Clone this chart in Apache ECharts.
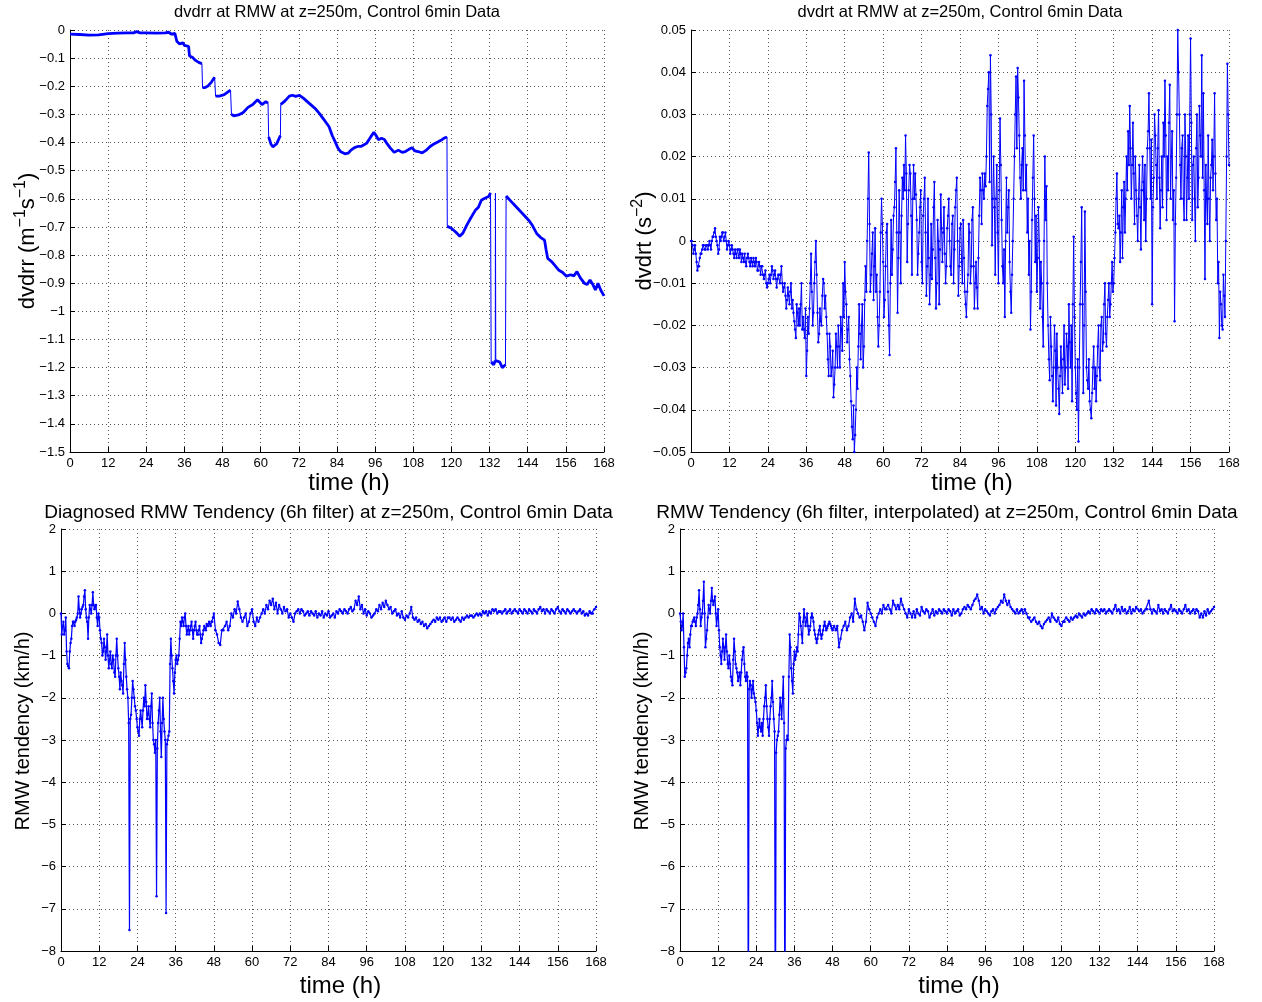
<!DOCTYPE html>
<html><head><meta charset="utf-8">
<script src="https://cdn.jsdelivr.net/npm/echarts@6/dist/echarts.min.js"></script>
<style>html,body{margin:0;padding:0;background:#fff}#c{width:1262px;height:1002px}</style>
</head><body><div id="c"></div>
<script>
// ---------- DATA ----------
const xTicks = [0,12,24,36,48,60,72,84,96,108,120,132,144,156,168];

// Top-left: dvdrr (time in h, value in m^-1 s^-1)
const dvdrrTime = [0,3,6,9,12,15,18,20,21,22,24,27,30,31,32,33,33.6,34.5,35.5,36,37.3,37.6,38.5,39.5,40.5,41.5,41.7,42.5,43.5,44.5,45.5,45.8,47,48.5,50.5,50.8,51.5,53,54.5,56,57.5,59,60.4,61.6,62.3,62.5,63.2,63.8,65,66.2,66.3,67,67.8,69,70,71,72.2,73.5,75,76,77.2,78.5,79.6,80.5,81.5,82.5,83.4,84.3,85.2,86.5,87.5,88.4,89.5,90.5,91.5,92.5,93.3,94.6,95.6,96.3,97,98,98.9,99.8,100.8,102,103.3,104.5,105.5,106.5,107.6,108.5,109.5,110.8,112,113.2,114.5,115.7,116.7,117.6,118.6,118.7,120,120.7,121.7,122.6,123.6,125,126,127.5,128.5,129.4,130.5,131.7,132.3,132.5,133.3,133.8,133.85,133.95,134.5,135.2,136,137,137.2,138,139.4,140.5,141.9,143,144.3,145.5,146.8,148,149.3,149.8,150.3,151.6,152.4,153.7,155,156.2,157.5,158.5,159.5,160.5,161.8,162.7,163.6,164.5,165.3,166.1,167,168];
const dvdrrVal = [-0.015,-0.016,-0.018,-0.017,-0.013,-0.011,-0.010,-0.010,-0.006,-0.010,-0.010,-0.011,-0.010,-0.008,-0.015,-0.012,-0.040,-0.050,-0.045,-0.055,-0.058,-0.092,-0.097,-0.108,-0.115,-0.120,-0.205,-0.205,-0.198,-0.185,-0.168,-0.235,-0.235,-0.230,-0.214,-0.300,-0.305,-0.302,-0.293,-0.275,-0.265,-0.248,-0.265,-0.255,-0.260,-0.380,-0.405,-0.415,-0.405,-0.375,-0.265,-0.258,-0.250,-0.235,-0.232,-0.236,-0.232,-0.243,-0.258,-0.268,-0.280,-0.297,-0.314,-0.328,-0.344,-0.375,-0.397,-0.420,-0.433,-0.440,-0.438,-0.427,-0.418,-0.414,-0.414,-0.408,-0.403,-0.380,-0.364,-0.375,-0.390,-0.385,-0.389,-0.405,-0.420,-0.435,-0.427,-0.435,-0.432,-0.425,-0.418,-0.430,-0.432,-0.437,-0.428,-0.415,-0.405,-0.398,-0.392,-0.385,-0.380,-0.698,-0.705,-0.712,-0.722,-0.733,-0.722,-0.690,-0.670,-0.641,-0.630,-0.605,-0.598,-0.592,-0.579,-1.180,-1.190,-1.175,-0.580,-1.175,-1.170,-1.180,-1.200,-1.190,-0.590,-0.600,-0.617,-0.630,-0.647,-0.660,-0.676,-0.695,-0.723,-0.737,-0.747,-0.782,-0.812,-0.824,-0.835,-0.853,-0.862,-0.875,-0.870,-0.874,-0.859,-0.880,-0.900,-0.905,-0.889,-0.905,-0.924,-0.900,-0.925,-0.945];

// Top-right: dvdrt (s^-2), on the half hours 0, 0.5, ..., 168
const dvdrtVal = [
0.000,-0.001,-0.002,-0.003,-0.007,-0.006,-0.003,-0.002,-0.001,-0.002,
-0.001,-0.001,-0.001,0.000,0.001,0.003,0.000,-0.003,0.001,0.001,
0.002,0.001,0.000,-0.001,-0.001,-0.002,-0.002,-0.004,-0.003,-0.002,
-0.004,-0.003,-0.003,-0.005,-0.005,-0.004,-0.004,-0.006,-0.005,-0.004,
-0.006,-0.005,-0.007,-0.006,-0.006,-0.008,-0.008,-0.010,-0.010,-0.008,
-0.008,-0.007,-0.008,-0.009,-0.009,-0.008,-0.008,-0.010,-0.011,-0.013,
-0.014,-0.013,-0.012,-0.016,-0.017,-0.021,-0.015,-0.020,-0.020,-0.010,
-0.018,-0.023,-0.032,-0.018,-0.016,-0.003,-0.020,-0.010,0.000,-0.017,
-0.022,-0.019,-0.013,-0.010,-0.013,-0.022,-0.032,-0.025,-0.030,-0.037,
-0.030,-0.025,-0.020,-0.030,-0.021,-0.010,-0.005,-0.015,-0.021,-0.028,
-0.038,-0.047,-0.050,-0.040,-0.035,-0.015,-0.028,-0.015,-0.025,-0.006,
0.000,0.021,-0.012,-0.003,-0.014,0.003,-0.008,-0.025,-0.012,0.010,
-0.005,-0.014,0.002,-0.012,-0.027,0.005,-0.002,0.008,0.022,-0.017,
0.012,-0.010,0.015,0.018,0.025,-0.005,0.012,0.016,-0.008,0.018,
0.016,0.005,-0.003,0.008,-0.005,0.006,0.015,-0.013,0.010,-0.015,
0.004,-0.002,0.014,-0.016,0.005,-0.015,0.011,-0.005,0.008,-0.010,
0.003,0.010,-0.006,0.004,-0.010,0.008,0.015,-0.013,0.003,-0.005,
0.005,-0.012,-0.018,-0.008,0.002,-0.006,0.008,-0.016,-0.005,-0.016,
0.006,0.012,0.016,0.010,0.013,0.032,0.040,0.044,-0.001,0.020,
-0.008,0.018,-0.010,0.029,0.005,-0.010,-0.018,0.015,0.008,-0.005,
-0.017,0.000,0.020,0.039,0.041,0.025,0.010,0.022,0.038,0.012,
0.002,-0.008,-0.021,0.005,0.025,-0.005,-0.012,0.008,-0.016,-0.010,
-0.025,0.020,0.013,-0.020,-0.033,-0.025,-0.038,-0.020,-0.039,-0.030,
-0.041,-0.025,-0.036,-0.020,-0.030,-0.025,-0.015,-0.030,-0.038,0.001,
-0.030,-0.040,-0.0475,-0.015,0.008,-0.036,0.007,-0.030,-0.035,-0.038,
-0.042,-0.030,-0.035,-0.038,-0.025,-0.030,-0.020,-0.026,-0.015,-0.022,
-0.018,-0.010,-0.015,-0.005,-0.010,0.002,0.016,0.003,-0.005,0.012,
0.008,0.002,0.020,0.026,0.032,0.010,0.028,0.004,0.012,0.000,
0.018,-0.002,0.020,0.005,0.000,0.022,0.035,0.010,-0.015,0.015,
0.025,0.010,0.031,0.003,0.020,0.028,0.038,0.005,0.012,0.037,
0.020,0.005,-0.019,0.015,0.050,0.030,0.010,0.025,0.005,0.020,
0.015,0.010,0.048,0.005,0.020,0.000,0.030,0.015,0.025,0.044,
0.035,-0.009,0.010,0.025,0.000,0.018,0.012,0.035,0.005,-0.010,
-0.023,-0.015,-0.021,-0.013,0.000,0.042,
0.018];
// Top-right: dvdrt on the quarter hours 0.25, 0.75, ..., 167.75
const dvdrtQuarter = [
0.000,-0.003,-0.001,-0.005,-0.006,-0.004,-0.003,-0.001,-0.002,-0.001,
-0.002,0.000,-0.002,0.001,0.002,0.001,-0.001,-0.002,0.000,0.002,
0.000,0.002,-0.002,0.000,-0.003,-0.001,-0.003,-0.002,-0.004,-0.002,
-0.002,-0.005,-0.004,-0.003,-0.006,-0.003,-0.005,-0.004,-0.006,-0.005,
-0.004,-0.007,-0.005,-0.008,-0.006,-0.009,-0.007,-0.011,-0.009,-0.010,
-0.006,-0.009,-0.007,-0.011,-0.008,-0.010,-0.006,-0.012,-0.010,-0.016,
-0.011,-0.015,-0.010,-0.014,-0.019,-0.023,-0.017,-0.016,-0.015,-0.021,
-0.021,-0.016,-0.026,-0.022,-0.010,-0.012,-0.017,-0.005,-0.008,-0.024,
-0.016,-0.020,-0.009,-0.016,-0.018,-0.028,-0.022,-0.032,-0.026,-0.034,
-0.022,-0.030,-0.025,-0.018,-0.026,-0.018,-0.012,-0.024,-0.018,-0.032,
-0.044,-0.039,-0.046,-0.030,-0.025,-0.022,-0.020,-0.030,-0.014,-0.012,
0.010,0.004,-0.008,0.002,-0.006,-0.012,-0.018,-0.020,0.002,0.004,
-0.018,-0.006,0.004,-0.020,-0.010,-0.008,0.006,0.014,0.002,-0.004,
0.002,0.006,0.010,0.012,0.016,0.004,0.018,0.006,0.010,0.010,
0.011,-0.008,0.002,0.012,-0.010,0.010,0.002,-0.006,-0.004,-0.008,
-0.009,0.008,-0.004,-0.010,0.000,-0.002,0.003,0.002,-0.003,-0.006,
0.006,0.000,-0.008,0.006,-0.002,0.012,0.000,-0.006,0.004,-0.010,
-0.004,-0.015,-0.012,0.004,-0.010,0.005,-0.006,-0.010,-0.011,-0.004,
0.015,0.004,0.012,0.016,0.020,0.036,0.014,0.030,0.010,0.008,
0.010,0.002,0.012,0.018,-0.006,-0.002,0.000,0.002,0.012,-0.012,
-0.008,0.010,0.030,0.022,0.034,0.015,0.018,0.012,0.025,0.018,
0.010,0.000,-0.012,0.015,0.010,0.006,-0.004,0.000,-0.005,-0.018,
0.000,0.005,-0.010,-0.028,-0.018,-0.032,-0.030,-0.026,-0.022,-0.035,
-0.032,-0.030,-0.028,-0.034,-0.022,-0.035,-0.024,-0.020,-0.015,-0.018,
-0.036,-0.028,-0.030,-0.005,-0.015,-0.020,-0.012,-0.033,-0.028,-0.040,
-0.036,-0.025,-0.030,-0.032,-0.020,-0.033,-0.018,-0.024,-0.010,-0.025,
-0.014,-0.018,-0.010,-0.012,-0.004,0.010,0.004,0.006,0.002,-0.004,
0.014,0.010,0.012,0.018,0.022,0.018,0.016,0.020,0.006,0.010,
0.008,0.012,0.014,0.018,0.010,0.026,0.022,0.024,0.008,0.030,
0.018,0.022,0.015,0.012,0.008,0.020,0.025,0.020,0.028,0.010,
0.026,0.012,0.004,0.030,0.040,0.018,0.022,0.010,0.030,0.005,
0.025,0.030,0.028,0.018,0.010,0.022,0.008,0.032,0.020,0.015,
0.012,0.018,0.004,0.010,0.015,0.024,0.020,0.016,0.010,-0.005,
-0.012,-0.020,-0.008,-0.018,0.020,0.030];

// Bottom-left: diagnosed RMW tendency (km/h), on the half hours
const diagTend = [
0.0,-0.3,-0.5,-0.1,-1.2,-1.3,-0.7,-0.3,-0.2,-0.2,
-0.1,0.4,-0.1,0.1,0.2,0.55,-0.1,-0.6,0.2,0.0,
0.5,0.1,0.2,-0.3,-0.1,-0.6,-1.0,-0.6,-1.1,-0.5,
-1.3,-0.9,-1.3,-1.1,-1.5,-0.6,-1.3,-1.8,-1.6,-1.9,
-0.7,-1.5,-2.0,-7.5,-2.4,-1.6,-2.0,-2.3,-2.7,-2.9,
-2.3,-2.7,-2.0,-1.7,-2.5,-2.2,-2.7,-1.9,-3.0,-3.3,
-6.7,-2.6,-2.0,-3.4,-2.0,-2.8,-7.1,-3.0,-2.8,-0.6,
-1.3,-1.9,-1.1,-1.2,-1.0,-0.2,-0.1,-0.3,0.0,-0.5,
-0.3,-0.4,-0.2,-0.6,-0.3,-0.4,-0.5,-0.3,-0.7,-0.5,
-0.3,-0.4,-0.3,-0.2,-0.3,-0.2,0.0,-0.4,-0.5,-0.7,
-0.75,-0.4,-0.4,-0.3,-0.2,-0.4,-0.3,0.0,-0.1,0.1,
0.0,0.28,0.1,-0.1,-0.2,-0.1,0.0,-0.3,-0.2,0.0,
0.1,-0.2,-0.3,-0.1,-0.2,-0.1,0.0,0.1,0.0,0.2,
0.1,0.3,0.2,0.35,0.1,0.25,0.0,0.2,0.1,0.0,
0.15,0.05,0.1,-0.1,0.0,-0.1,-0.2,0.0,0.05,0.1,
0.0,0.1,0.05,-0.05,0.0,0.05,-0.05,0.05,0.0,-0.05,
0.05,-0.1,0.0,-0.05,0.05,-0.1,0.0,-0.05,0.05,-0.1,
-0.05,0.0,-0.1,0.05,0.0,0.1,0.05,0.0,0.1,0.05,
0.0,0.1,0.15,0.05,0.1,0.3,0.2,0.4,0.1,0.2,
0.0,0.1,-0.05,0.05,0.0,-0.1,-0.05,0.0,0.1,0.05,
0.2,0.1,0.25,0.15,0.3,0.2,0.1,0.15,0.0,0.05,
0.1,-0.05,0.0,-0.1,0.05,-0.1,-0.15,-0.05,-0.1,0.0,
0.15,-0.1,-0.15,-0.1,-0.2,-0.15,-0.25,-0.2,-0.3,-0.25,
-0.35,-0.3,-0.25,-0.2,-0.15,-0.2,-0.1,-0.15,-0.1,-0.2,
-0.15,-0.1,-0.2,-0.1,-0.1,-0.15,-0.1,-0.2,-0.15,-0.1,
-0.15,-0.2,-0.1,-0.15,-0.1,-0.05,-0.1,-0.05,-0.05,-0.1,
-0.05,0.0,-0.05,0.0,-0.05,0.05,0.0,0.05,-0.05,0.05,
0.0,0.1,0.05,0.1,0.0,0.05,0.05,0.0,0.05,0.1,
0.0,0.05,0.1,0.0,0.05,0.1,0.05,0.0,0.1,0.05,
0.0,0.1,0.05,0.0,0.1,0.05,0.0,0.1,0.05,0.0,
0.1,0.15,0.05,0.1,0.0,0.1,0.05,0.0,0.1,0.05,
0.0,0.1,0.15,0.05,0.0,0.1,0.05,0.0,0.1,0.05,
0.0,0.05,0.1,0.05,0.0,0.05,0.1,0.0,0.05,-0.05,
0.0,-0.05,0.05,0.0,0.0,0.1,
0.15];
// Bottom-left: quarter hours 0.25 ... 47.75
const diagTendQuarter = [
-0.5,-0.2,-0.4,-0.9,-1.25,-0.9,-0.6,-0.2,-0.3,-0.15,
0.0,0.1,0.0,0.15,0.4,0.1,-0.2,-0.1,0.1,0.2,
0.2,0.15,-0.1,0.0,-0.4,-0.7,-0.9,-0.8,-0.9,-1.0,
-1.1,-1.2,-1.0,-1.4,-1.0,-1.0,-1.5,-1.4,-1.7,-1.2,
-1.1,-1.8,-2.6,-2.5,-2.0,-1.8,-2.2,-2.5,-2.8,-2.5,
-2.5,-2.3,-2.2,-2.1,-2.4,-2.5,-2.2,-2.6,-3.1,-3.0,
-3.2,-2.3,-2.8,-2.6,-2.5,-3.0,-3.1,-2.9,-1.2,-1.0,
-1.6,-1.4,-1.0,-1.1,-0.6,-0.3,-0.2,-0.1,-0.3,-0.4,
-0.5,-0.3,-0.4,-0.4,-0.2,-0.5,-0.4,-0.5,-0.6,-0.4,
-0.35,-0.25,-0.3,-0.25,-0.2,-0.1];

// Bottom-right: interpolated RMW tendency (km/h), on the half hours (spikes run below -8)
const interpTend = [
0.0,-0.4,0.0,-1.5,-1.3,-0.7,-0.8,-0.3,-0.2,-0.1,
-0.3,0.0,0.55,-0.3,0.0,0.75,-0.8,-0.4,0.2,0.0,
0.6,0.2,0.4,-0.3,0.1,-0.8,-1.2,-0.6,-1.1,-0.5,
-1.2,-1.0,-1.5,-1.7,-0.6,-1.2,-1.4,-1.5,-1.7,-1.1,
-0.8,-1.5,-1.4,-11,-1.6,-2.0,-1.6,-2.0,-2.3,-2.9,
-2.5,-2.8,-2.9,-2.2,-1.7,-2.5,-2.9,-2.2,-1.6,-2.5,
-11,-3.0,-2.8,-2.0,-2.5,-1.5,-11,-3.0,-3.0,-0.5,
-1.3,-1.9,-0.9,-1.0,-0.9,0.0,-0.3,-0.7,0.1,-0.3,
0.0,-0.5,-0.3,0.0,-0.2,-0.5,-0.7,-0.5,-0.3,-0.6,
-0.4,-0.2,-0.4,-0.3,-0.2,-0.3,-0.4,-0.3,-0.4,-0.3,
-0.8,-0.6,-0.4,-0.3,-0.2,-0.4,-0.3,-0.1,0.0,-0.2,
0.35,0.1,0.0,-0.1,-0.05,-0.2,-0.4,-0.2,0.25,0.1,
0.0,-0.1,-0.2,-0.3,-0.1,0.0,0.1,0.0,0.2,0.1,
0.1,0.2,0.1,0.0,0.3,0.2,0.1,0.2,0.1,0.35,
0.2,0.1,0.0,-0.1,0.1,0.0,-0.1,0.05,-0.1,0.1,
0.0,-0.05,0.15,0.05,0.0,0.1,0.05,-0.1,0.0,0.1,
-0.05,0.05,0.0,0.1,0.05,0.0,0.1,0.05,0.0,0.1,
0.05,-0.05,0.1,0.0,0.05,0.1,-0.05,0.0,0.1,0.15,
0.1,0.2,0.15,0.1,0.2,0.3,0.35,0.45,0.3,0.1,
0.15,0.0,0.1,0.05,0.0,-0.05,0.05,0.1,0.0,0.1,
0.15,0.2,0.3,0.25,0.45,0.3,0.2,0.3,0.15,0.1,
0.05,0.0,0.1,0.0,0.05,0.1,0.0,0.1,0.0,-0.1,
-0.1,-0.2,-0.15,-0.1,-0.2,-0.25,-0.2,-0.3,-0.35,-0.25,
-0.2,-0.15,-0.1,-0.2,0.0,-0.1,-0.15,-0.2,-0.1,-0.25,
-0.3,-0.2,-0.2,-0.1,-0.15,-0.2,-0.1,-0.15,-0.1,-0.05,
-0.1,0.0,-0.05,-0.1,0.0,-0.05,0.0,0.05,0.0,0.1,
0.05,0.0,0.1,0.05,0.0,0.1,0.05,0.1,0.0,0.05,
0.1,0.05,0.0,0.1,0.2,0.05,0.1,0.0,0.15,0.05,
0.1,0.0,0.05,0.15,0.0,0.1,0.05,0.15,0.1,0.05,
0.1,0.0,0.05,0.1,0.1,0.3,0.1,0.0,0.1,0.05,
0.0,0.2,0.05,0.1,0.0,0.1,0.05,0.0,0.1,0.2,
0.05,0.1,0.05,0.0,0.1,0.05,0.0,0.1,0.2,0.05,
0.1,0.0,0.05,0.1,0.0,0.1,0.05,-0.1,0.0,-0.1,
0.05,-0.05,0.1,0.0,0.05,0.1,
0.15];
// Bottom-right: quarter hours 0.25 ... 47.75
const interpTendQuarter = [
-0.2,-0.3,-0.8,-1.4,-1.0,-0.6,-0.5,-0.3,-0.15,-0.2,
-0.1,0.2,0.1,-0.1,0.3,0.0,-0.6,-0.1,0.1,0.3,
0.3,0.3,0.0,-0.1,-0.4,-1.0,-0.9,-0.8,-0.8,-0.9,
-1.3,-1.2,-1.6,-1.1,-0.9,-1.3,-1.6,-1.4,-1.4,-0.9,
-1.2,-1.6,-1.5,-1.8,-1.7,-1.8,-1.9,-2.1,-2.6,-2.7,
-2.7,-2.6,-2.5,-2.0,-2.2,-2.7,-2.5,-2.0,-2.1,-2.8,
-3.3,-2.9,-2.4,-2.2,-2.0,-2.6,-3.2,-2.9,-1.5,-0.8,
-1.6,-1.2,-1.1,-0.8,-0.5,-0.1,-0.5,-0.2,-0.1,-0.2,
-0.3,-0.4,-0.1,-0.1,-0.4,-0.6,-0.6,-0.4,-0.5,-0.5,
-0.3,-0.3,-0.35,-0.25,-0.25,-0.35];

// ---------- BUILD ----------
const STEP = 0.5;
function merge(half, quarter) {
  const out = [];
  half.forEach((v, i) => {
    out.push([i * STEP, v]);
    if (i < quarter.length) out.push([i * STEP + STEP / 2, quarter[i]]);
  });
  return out;
}

const tlThin = dvdrrTime.map((t, i) => [t, dvdrrVal[i]]);
const tlThick = [];
dvdrrTime.forEach((t, i) => {
  if (i > 0 && Math.abs(dvdrrVal[i] - dvdrrVal[i - 1]) > 0.05) tlThick.push([(t + dvdrrTime[i - 1]) / 2, '-']);
  tlThick.push([t, dvdrrVal[i]]);
});

const FONT = '"Liberation Sans", Arial, Helvetica, sans-serif';
const BLUE = '#0000ff';
const minus = s => String(s).replace('-', '\u2212');

const grids = [
  {left: 70, top: 30, width: 534, height: 422},
  {left: 691, top: 30, width: 538, height: 422},
  {left: 61, top: 529, width: 535, height: 422},
  {left: 680, top: 529, width: 534, height: 422}
];

function xAxis(gi, gap) {
  return {
    type: 'value', gridIndex: gi, min: xTicks[0], max: xTicks[xTicks.length - 1], interval: xTicks[1] - xTicks[0],
    name: 'time (h)', nameLocation: 'middle', nameGap: gap, nameMoveOverlap: false,
    nameTextStyle: {fontFamily: FONT, fontSize: 24, color: '#000', padding: [0, 0, 0, 24]},
    axisLine: {show: true, onZero: false, lineStyle: {color: '#000', width: 1}},
    axisTick: {show: true, inside: true, length: 5, lineStyle: {color: '#000'}},
    axisLabel: {fontFamily: FONT, fontSize: 13, color: '#000', margin: 5},
    splitLine: {show: true, lineStyle: {type: [1, 3], color: '#555', width: 1}}
  };
}
function yAxis(gi, min, max, interval, digits, name, rich, gap, pad) {
  return {
    type: 'value', gridIndex: gi, min, max, interval,
    name, nameLocation: 'middle', nameGap: gap, nameRotate: 90, nameMoveOverlap: false,
    nameTextStyle: {fontFamily: FONT, fontSize: 22, color: '#000', rich, padding: pad},
    axisLine: {show: true, onZero: false, lineStyle: {color: '#000', width: 1}},
    axisTick: {show: true, inside: true, length: 5, lineStyle: {color: '#000'}},
    axisLabel: {fontFamily: FONT, fontSize: 13, color: '#000', margin: 5,
      formatter: v => minus(String(+v.toFixed(digits)))},
    splitLine: {show: true, lineStyle: {type: [1, 3], color: '#555', width: 1}}
  };
}
const richSup = {
  a: {fontFamily: FONT, fontSize: 22, color: '#000'},
  b: {fontFamily: FONT, fontSize: 16, color: '#000', verticalAlign: 'top', padding: [0, 0, 14, 0]}
};
const richPlain = {a: {fontFamily: FONT, fontSize: 20, color: '#000'}};

function noisy(idx, data, w) {
  return {
    type: 'line', xAxisIndex: idx, yAxisIndex: idx, data,
    symbol: 'circle', symbolSize: 2.5, showSymbol: true, showAllSymbol: true,
    lineStyle: {color: BLUE, width: w}, itemStyle: {color: BLUE}, animation: false, silent: true
  };
}

const titleStyle = (size) => ({fontFamily: FONT, fontSize: size, fill: '#000', textAlign: 'center', textVerticalAlign: 'middle'});
const titles = [
  ['dvdrr at RMW at z=250m, Control 6min Data', 0, 12, 16.5],
  ['dvdrt at RMW at z=250m, Control 6min Data', 1, 12, 16.5],
  ['Diagnosed RMW Tendency (6h filter) at z=250m, Control 6min Data', 2, 513, 19],
  ['RMW Tendency (6h filter, interpolated) at z=250m, Control 6min Data', 3, 513, 19]
];

const chart = echarts.init(document.getElementById('c'), null, {renderer: 'canvas'});
chart.setOption({
  backgroundColor: '#fff',
  animation: false,
  grid: grids,
  xAxis: [xAxis(0, 19), xAxis(1, 19), xAxis(2, 23), xAxis(3, 23)],
  yAxis: [
    yAxis(0, -1.5, 0, 0.1, 1, '{a|dvdrr (m}{b|\u22121}{a|s}{b|\u22121}{a|)}', richSup, 27, 0),
    yAxis(1, -0.05, 0.05, 0.01, 2, '{a|dvdrt (s}{b|\u22122}{a|)}', richSup, 31, 0),
    yAxis(2, -8, 2, 1, 0, '{a|RMW tendency (km/h)}', richPlain, 27.5, [0, 0, 0, 18]),
    yAxis(3, -8, 2, 1, 0, '{a|RMW tendency (km/h)}', richPlain, 27.5, [0, 0, 0, 18])
  ],
  series: [
    {type: 'line', xAxisIndex: 0, yAxisIndex: 0, data: tlThin, symbol: 'none',
     lineStyle: {color: BLUE, width: 1}, animation: false, silent: true},
    {type: 'line', xAxisIndex: 0, yAxisIndex: 0, data: tlThick, symbol: 'none', connectNulls: false,
     lineStyle: {color: BLUE, width: 2.8}, animation: false, silent: true},
    noisy(1, merge(dvdrtVal, dvdrtQuarter), 1),
    noisy(2, merge(diagTend, diagTendQuarter), 1.2),
    noisy(3, merge(interpTend, interpTendQuarter), 1.2)
  ],
  graphic: titles.map(([text, gi, y, size]) => ({
    type: 'text', x: grids[gi].left + grids[gi].width / 2, y,
    style: Object.assign({text}, titleStyle(size)), silent: true
  }))
});
</script></body></html>
